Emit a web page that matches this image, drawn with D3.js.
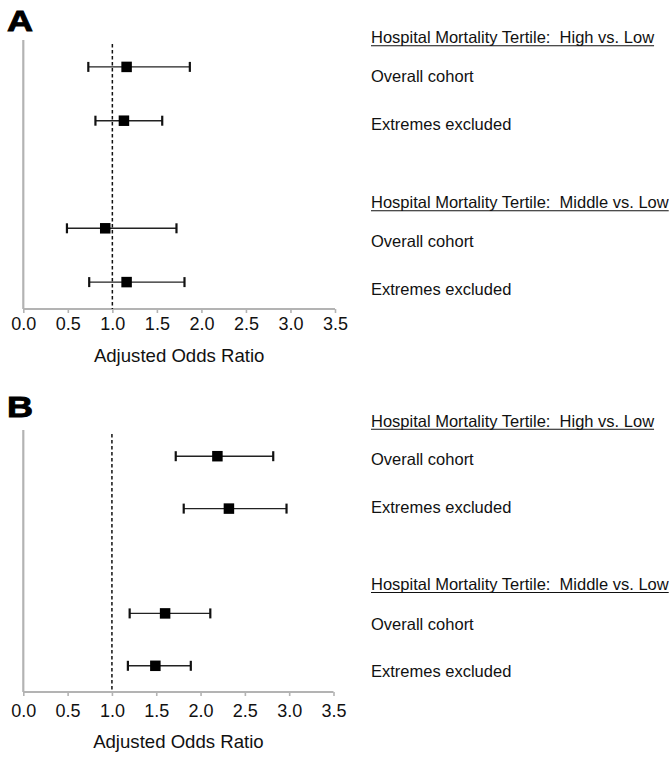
<!DOCTYPE html>
<html>
<head>
<meta charset="utf-8">
<script src="https://cdn.jsdelivr.net/npm/d3@7"></script>
<style>
  html, body { margin: 0; padding: 0; background: #fff; }
  svg { display: block; }
  text { font-family: "Liberation Sans", Arial, sans-serif; white-space: pre; }
</style>
</head>
<body>
<svg id="chart" width="669" height="758"></svg>
<script>
// ---------------- DATA ----------------
const panelLetters = ["A", "B"];
const groupHeaders = ["Hospital Mortality Tertile:  High vs. Low", "Hospital Mortality Tertile:  Middle vs. Low"];
const rowLabels = ["Overall cohort", "Extremes excluded", "Overall cohort", "Extremes excluded"];
const rowSlots = [0, 1, 3, 4];           // category slots (slot 2 is the gap between groups)
const xTicks = [0, 0.5, 1.0, 1.5, 2.0, 2.5, 3.0, 3.5];
const xTitle = "Adjusted Odds Ratio";
const refValue = 1.0;

// Panel A
const aOR   = [1.16, 1.13, 0.92, 1.16];
const aLow  = [0.73, 0.81, 0.49, 0.74];
const aHigh = [1.87, 1.56, 1.72, 1.81];
// Panel B
const bOR   = [2.19, 2.32, 1.60, 1.49];
const bLow  = [1.72, 1.81, 1.20, 1.18];
const bHigh = [2.82, 2.97, 2.11, 1.89];

// ---------------- LAYOUT ----------------
const panels = [
  { letter: panelLetters[0], or: aOR, lo: aLow, hi: aHigh,
    left: 23.3, right: 335, top: 40, bottom: 309,
    letterY: 31, tickDy: 21, titleDy: 53,
    labelYs: [43.3, 81.7, 130, 208.3, 246.7, 295] },
  { letter: panelLetters[1], or: bOR, lo: bLow, hi: bHigh,
    left: 23.3, right: 333.5, top: 430, bottom: 692,
    letterY: 417, tickDy: 25, titleDy: 56,
    labelYs: [426.7, 465, 513.3, 590, 630, 676.7] }
];
const labelX = 371;

const svg = d3.select("#chart");

panels.forEach(p => {
  const g = svg.append("g");
  const x = d3.scaleLinear().domain([0, 3.5]).range([p.left, p.right]);
  const y = d3.scaleBand().domain(d3.range(5)).range([p.top, p.bottom]);

  // panel letter
  g.append("text")
    .attr("transform", `translate(7,${p.letterY}) scale(1.2,1)`)
    .attr("font-size", 30).attr("font-weight", "bold").attr("fill", "#000")
    .attr("stroke", "#000").attr("stroke-width", 0.9)
    .text(p.letter);

  // x axis
  const xAxis = d3.axisBottom(x).tickValues(xTicks).tickFormat(d3.format(".1f"))
    .tickSizeInner(4).tickSizeOuter(0).tickPadding(0);
  const ax = g.append("g").attr("transform", `translate(0,${p.bottom})`).call(xAxis);
  ax.select(".domain").attr("stroke", "#b3b3b3").attr("stroke-width", 2.2)
    .attr("d", `M${p.left},0H${p.right}`);
  ax.selectAll(".tick line").attr("stroke", "#b3b3b3").attr("stroke-width", 1.6);
  ax.selectAll(".tick text")
    .attr("y", p.tickDy).attr("dy", null)
    .attr("font-size", 18).attr("fill", "#111")
    .attr("font-family", "Liberation Sans, Arial, sans-serif");

  // y axis line
  g.append("line")
    .attr("x1", p.left).attr("x2", p.left)
    .attr("y1", p.top).attr("y2", p.bottom)
    .attr("stroke", "#b3b3b3").attr("stroke-width", 2.2);

  // reference dashed line
  g.append("line")
    .attr("x1", x(refValue)).attr("x2", x(refValue))
    .attr("y1", p.top + 4).attr("y2", p.bottom)
    .attr("stroke", "#111").attr("stroke-width", 1.5)
    .attr("stroke-dasharray", "3.5,2.5");

  // error bars
  const rows = rowSlots.map((s, i) => ({ slot: s, or: p.or[i], lo: p.lo[i], hi: p.hi[i] }));
  const cy = d => y(d.slot) + y.bandwidth() / 2;
  const eg = g.append("g");
  eg.selectAll("line.ci").data(rows).join("line").attr("class", "ci")
    .attr("x1", d => x(d.lo)).attr("x2", d => x(d.hi))
    .attr("y1", cy).attr("y2", cy)
    .attr("stroke", "#222").attr("stroke-width", 1.4);
  ["lo", "hi"].forEach(k => {
    eg.selectAll("line.cap-" + k).data(rows).join("line").attr("class", "cap-" + k)
      .attr("x1", d => x(d[k])).attr("x2", d => x(d[k]))
      .attr("y1", d => cy(d) - 5).attr("y2", d => cy(d) + 5)
      .attr("stroke", "#111").attr("stroke-width", 2.2);
  });
  const sq = 10.5;
  eg.selectAll("rect").data(rows).join("rect")
    .attr("x", d => x(d.or) - sq / 2).attr("y", d => cy(d) - sq / 2)
    .attr("width", sq).attr("height", sq).attr("fill", "#000");

  // x title
  g.append("text")
    .attr("x", (p.left + p.right) / 2).attr("y", p.bottom + p.titleDy)
    .attr("text-anchor", "middle").attr("font-size", 18.6).attr("fill", "#111")
    .text(xTitle);

  // right-side labels
  const labels = [
    { t: groupHeaders[0], h: true }, { t: rowLabels[0] }, { t: rowLabels[1] },
    { t: groupHeaders[1], h: true }, { t: rowLabels[2] }, { t: rowLabels[3] }
  ];
  labels.forEach((l, i) => {
    const tx = g.append("text")
      .attr("x", labelX).attr("y", p.labelYs[i])
      .attr("font-size", 16.5).attr("fill", "#111")
      .text(l.t);
    if (l.h) {
      const w = tx.node().getComputedTextLength();
      g.append("line")
        .attr("x1", labelX).attr("x2", labelX + w)
        .attr("y1", p.labelYs[i] + 2.5).attr("y2", p.labelYs[i] + 2.5)
        .attr("stroke", "#111").attr("stroke-width", 1.1);
    }
  });
});
</script>
</body>
</html>
